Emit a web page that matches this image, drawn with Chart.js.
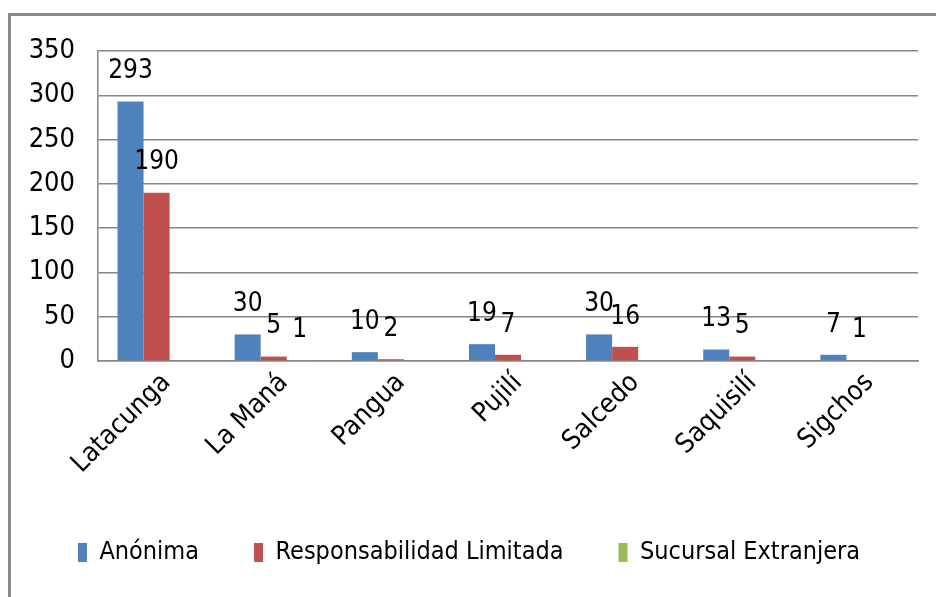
<!DOCTYPE html>
<html>
<head>
<meta charset="utf-8">
<script src="https://cdn.jsdelivr.net/npm/chart.js@4.4.1/dist/chart.umd.min.js"></script>
<style>
  body { margin: 0; background: #fff; }
  #wrap { width: 936px; height: 597px; }
</style>
</head>
<body>
<div id="wrap"><canvas id="chart" width="936" height="597"></canvas></div>
<script>
// data
const categories = ["Latacunga", "La Maná", "Pangua", "Pujilí", "Salcedo", "Saquisilí", "Sigchos"];
const anonima = [293, 30, 10, 19, 30, 13, 7];
const responsabilidad = [190, 5, 2, 7, 16, 5, 1];
const sucursal = [null, 1, null, null, null, null, null];
const yTicks = [0, 50, 100, 150, 200, 250, 300, 350];

const FONT = "'DejaVu Sans Condensed', 'DejaVu Sans', sans-serif";

// outer frame like the spreadsheet chart border
const framePlugin = {
  id: "frame",
  beforeDraw(chart) {
    const ctx = chart.ctx;
    ctx.save();
    ctx.fillStyle = "#8a8a8a";
    ctx.fillRect(8, 13, chart.width - 8, 3);
    ctx.fillRect(8, 13, 3, chart.height - 13);
    ctx.restore();
  }
};

// value labels above each bar
const valueLabels = {
  id: "valueLabels",
  afterDatasetsDraw(chart) {
    const ctx = chart.ctx;
    ctx.save();
    ctx.font = "26px " + FONT;
    ctx.fillStyle = "#000";
    ctx.textAlign = "center";
    ctx.textBaseline = "bottom";
    chart.data.datasets.forEach((ds, i) => {
      const meta = chart.getDatasetMeta(i);
      meta.data.forEach((bar, j) => {
        const v = ds.data[j];
        if (v === null || v === undefined) return;
        ctx.fillText(String(v), bar.x, bar.y - 17);
      });
    });
    ctx.restore();
  }
};

new Chart(document.getElementById("chart"), {
  type: "bar",
  data: {
    labels: categories,
    datasets: [
      { label: "Anónima", data: anonima, backgroundColor: "#4f81bd" },
      { label: "Responsabilidad Limitada", data: responsabilidad, backgroundColor: "#c0504d" },
      { label: "Sucursal Extranjera", data: sucursal, backgroundColor: "#9bbb59" }
    ]
  },
  options: {
    responsive: false,
    animation: false,
    layout: { padding: { left: 20, right: 18, top: 51, bottom: 22 } },
    datasets: { bar: { barPercentage: 1, categoryPercentage: 0.667 } },
    scales: {
      y: {
        min: 0,
        max: 350,
        afterBuildTicks: (s) => { s.ticks = yTicks.map((v) => ({ value: v })); },
        afterFit: (s) => { s.width = 78; },
        ticks: { color: "#000", font: { family: FONT, size: 27 }, padding: 23 },
        grid: { color: "#868686", lineWidth: 1.5, drawTicks: false },
        border: { color: "#868686", width: 1.5 }
      },
      x: {
        afterFit: (s) => { s.height = 124; },
        ticks: {
          color: "#000",
          font: { family: FONT, size: 27 },
          minRotation: 45,
          maxRotation: 45,
          labelOffset: 10,
          padding: 6
        },
        grid: { display: false, drawTicks: false },
        border: { color: "#868686", width: 1.5 }
      }
    },
    plugins: {
      legend: {
        position: "bottom",
        labels: {
          color: "#000",
          font: { family: FONT, size: 25 },
          boxWidth: 9,
          boxHeight: 19,
          padding: 55
        }
      },
      tooltip: { enabled: false }
    }
  },
  plugins: [framePlugin, valueLabels]
});
</script>
</body>
</html>
